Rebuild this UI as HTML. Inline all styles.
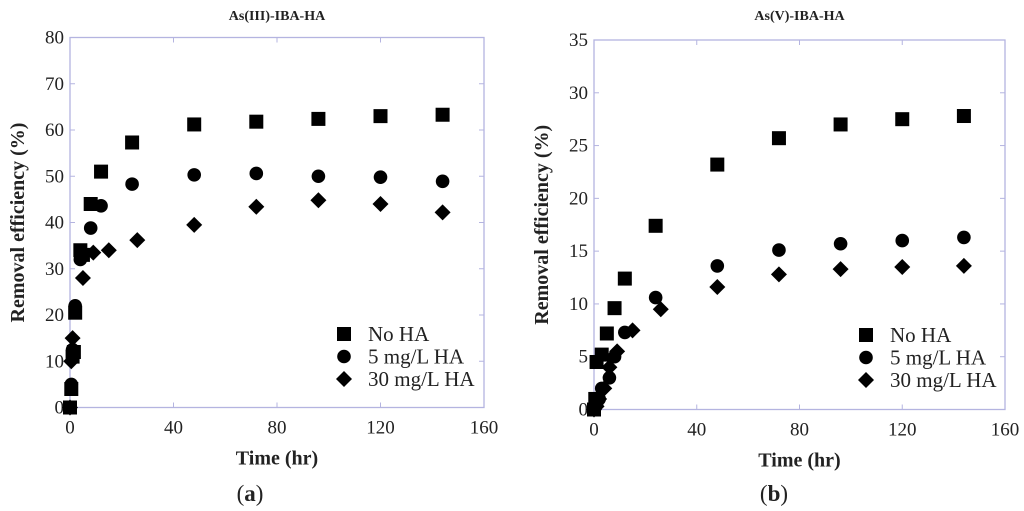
<!DOCTYPE html>
<html><head><meta charset="utf-8"><style>
body{margin:0;background:#fff;}
svg{display:block;}
svg text{font-family:"Liberation Serif","Times New Roman",serif;}
</style></head><body>
<svg id="chart" width="1024" height="511"></svg>
<script>
const xTicks=[0,40,80,120,160];
const aYTicks=[0,10,20,30,40,50,60,70,80];
const bYTicks=[0,5,10,15,20,25,30,35];
const seriesNames=["No HA","5 mg/L HA","30 mg/L HA"];
const aNoHAx=[0,0.5,1,1.5,2,4,5,8,12,24,48,72,96,120,144];
const aNoHAy=[0,4,11,12,20.5,34,33,44,51,57.3,61.2,61.8,62.4,63,63.3];
const a5x=[0,0.5,1,2,4,8,12,24,48,72,96,120,144];
const a5y=[0,5,12.5,22,32,38.8,43.6,48.3,50.3,50.6,50,49.8,48.9];
const a30x=[0,0.5,1,5,9,15,26,48,72,96,120,144];
const a30y=[0,10,15,28,33.5,34,36.2,39.5,43.4,44.8,44,42.2];
const bNoHAx=[0,0.5,1,3,5,8,12,24,48,72,96,120,144];
const bNoHAy=[0,1,4.5,5.2,7.2,9.6,12.4,17.4,23.2,25.7,27,27.5,27.8];
const b5x=[0,1,2,3,6,8,12,24,48,72,96,120,144];
const b5y=[0,0.5,1,2,3,5,7.3,10.6,13.6,15.1,15.7,16,16.3];
const b30x=[0,1,2,4,6,9,15,26,48,72,96,120,144];
const b30y=[0,0.3,1,2,4,5.5,7.5,9.5,11.6,12.8,13.3,13.5,13.6];

const NS="http://www.w3.org/2000/svg";
const svg=document.getElementById('chart');
function mk(tag,attrs,parent,text){const e=document.createElementNS(NS,tag);for(const k in attrs)e.setAttribute(k,attrs[k]);if(text!==undefined)e.textContent=text;(parent||svg).appendChild(e);return e;}

function marker(g,type,cx,cy){
  let e;
  if(type===0){e=mk('rect',{x:cx-7,y:cy-7,width:14,height:14,fill:'#000'},g);}
  else if(type===1){e=mk('circle',{cx:cx,cy:cy,r:6.8,fill:'#000'},g);}
  else{e=mk('polygon',{points:`${cx},${cy-8} ${cx+8},${cy} ${cx},${cy+8} ${cx-8},${cy}`,fill:'#000'},g);}
  return e;
}

function panel(p){
  const g=mk('g',{});
  
  
  const X=v=>p.x0+(v-0)/(160)*(p.x1-p.x0);
  const Y=v=>p.y0-(v/p.ymax)*(p.y0-p.y1);
  const fr=mk('rect',{x:p.x0,y:p.y1,width:p.x1-p.x0,height:p.y0-p.y1,fill:'none',stroke:'#b4b4e0','stroke-width':1.3},g);
  
  
  xTicks.forEach(t=>{
    const x=X(t);
    mk('line',{x1:x,y1:p.y0,x2:x,y2:p.y0-5,stroke:'#b4b4e0'},g);
    mk('line',{x1:x,y1:p.y1,x2:x,y2:p.y1+5,stroke:'#b4b4e0'},g);
    const tl=mk('text',{x:x,y:p.y0+26,'text-anchor':'middle','font-size':19,fill:'#222'},g,String(t));
    
    
  });
  p.yt.forEach(t=>{
    const y=Y(t);
    mk('line',{x1:p.x0,y1:y,x2:p.x0+5,y2:y,stroke:'#b4b4e0'},g);
    mk('line',{x1:p.x1,y1:y,x2:p.x1-5,y2:y,stroke:'#b4b4e0'},g);
    const tl=mk('text',{x:p.x0-6,y:y+6,'text-anchor':'end','font-size':19,fill:'#222'},g,String(t));
    
    
  });
  const t=mk('text',{x:(p.x0+p.x1)/2,y:20,'text-anchor':'middle','font-size':14,'font-weight':'bold',fill:'#222'},g,p.title);
  
  
  const xt=mk('text',{x:(p.x0+p.x1)/2,y:p.y0+57,'text-anchor':'middle','font-size':20,'font-weight':'bold',fill:'#222'},g,'Time (hr)');
  
  
  const yc=(p.y0+p.y1)/2;
  const yt=mk('text',{x:p.yx,y:yc,'text-anchor':'middle','font-size':20,'font-weight':'bold',fill:'#222',transform:`rotate(-90 ${p.yx} ${yc})`},g,'Removal efficiency (%)');
  
  
  const cap=mk('text',{x:p.capx,y:501,'text-anchor':'middle','font-size':23,fill:'#222'},g);
  
  
  mk('tspan',{},cap,'(');mk('tspan',{'font-weight':'bold'},cap,p.cap);mk('tspan',{},cap,')');
  p.series.forEach((s,i)=>{
    const sg=mk('g',{},g);
    
    
    s[0].forEach((xv,j)=>{
      const m=marker(sg,i,X(xv),Y(s[1][j]));
      
      
    });
  });
  seriesNames.forEach((n,i)=>{
    const lg=mk('g',{},g);
    
    
    const ly=p.ly+i*22.5;
    marker(lg,i,p.lx,ly);
    mk('text',{x:p.lx+24,y:ly+7,'font-size':21,fill:'#222'},lg,n);
  });
}

panel({id:'panel-a',x0:70,x1:484,y0:407.5,y1:37.5,ymax:80,yt:aYTicks,title:'As(III)-IBA-HA',yx:24,capx:250,cap:'a',lx:344,ly:334,
  series:[[aNoHAx,aNoHAy],[a5x,a5y],[a30x,a30y]]});
panel({id:'panel-b',x0:594,x1:1005,y0:409.5,y1:40,ymax:35,yt:bYTicks,title:'As(V)-IBA-HA',yx:548,capx:774,cap:'b',lx:866,ly:335,
  series:[[bNoHAx,bNoHAy],[b5x,b5y],[b30x,b30y]]});
</script>
</body></html>
